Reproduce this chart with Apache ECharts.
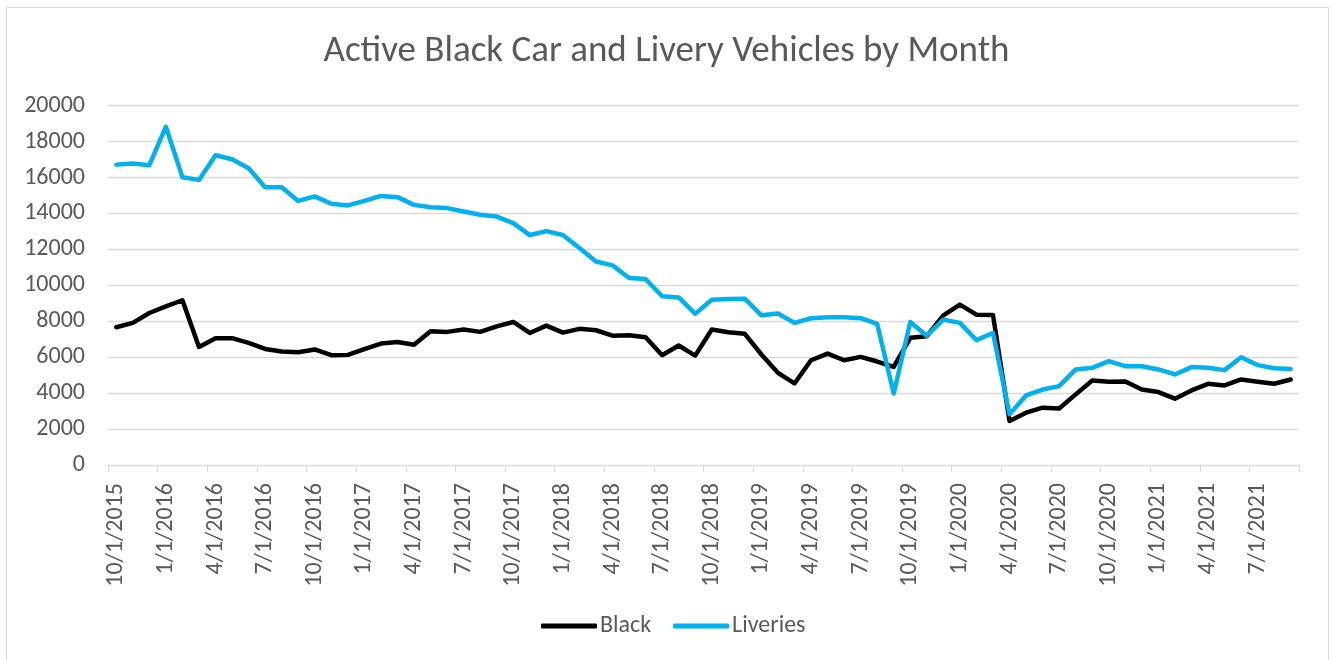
<!DOCTYPE html>
<html>
<head>
<meta charset="utf-8">
<script src="https://cdn.jsdelivr.net/npm/echarts@6/dist/echarts.min.js"></script>
<style>
html,body{margin:0;padding:0;background:#fff;}
#chart{width:1333px;height:660px;}
</style>
</head>
<body>
<div id="chart"></div>
<script>
var months = [
  "10/1/2015","11/1/2015","12/1/2015",
  "1/1/2016","2/1/2016","3/1/2016","4/1/2016","5/1/2016","6/1/2016","7/1/2016","8/1/2016","9/1/2016","10/1/2016","11/1/2016","12/1/2016",
  "1/1/2017","2/1/2017","3/1/2017","4/1/2017","5/1/2017","6/1/2017","7/1/2017","8/1/2017","9/1/2017","10/1/2017","11/1/2017","12/1/2017",
  "1/1/2018","2/1/2018","3/1/2018","4/1/2018","5/1/2018","6/1/2018","7/1/2018","8/1/2018","9/1/2018","10/1/2018","11/1/2018","12/1/2018",
  "1/1/2019","2/1/2019","3/1/2019","4/1/2019","5/1/2019","6/1/2019","7/1/2019","8/1/2019","9/1/2019","10/1/2019","11/1/2019","12/1/2019",
  "1/1/2020","2/1/2020","3/1/2020","4/1/2020","5/1/2020","6/1/2020","7/1/2020","8/1/2020","9/1/2020","10/1/2020","11/1/2020","12/1/2020",
  "1/1/2021","2/1/2021","3/1/2021","4/1/2021","5/1/2021","6/1/2021","7/1/2021","8/1/2021","9/1/2021"
];

var black = [
  7670, 7910, 8460, 8830, 9170, 6570, 7060, 7060, 6800, 6460, 6320, 6280,
  6430, 6110, 6130, 6450, 6760, 6850, 6690, 7450, 7410, 7540, 7410, 7720,
  7960, 7350, 7760, 7370, 7580, 7500, 7200, 7220, 7110, 6110, 6650, 6090,
  7540, 7390, 7300, 6150, 5130, 4540, 5830, 6200, 5830, 6020, 5760, 5460,
  7080, 7170, 8330, 8930, 8370, 8350, 2450, 2910, 3190, 3150, 3930, 4700,
  4630, 4650, 4200, 4060, 3690, 4150, 4520, 4430, 4760, 4630, 4520, 4760
];

var liveries = [
  16720, 16780, 16690, 18830, 16020, 15870, 17240, 17020, 16520, 15460, 15460, 14700,
  14950, 14540, 14450, 14700, 14980, 14910, 14480, 14350, 14300, 14110, 13930, 13830,
  13460, 12800, 13020, 12800, 12080, 11330, 11110, 10410, 10350, 9390, 9330, 8410,
  9200, 9240, 9260, 8330, 8430, 7910, 8170, 8220, 8220, 8170, 7850, 3980,
  7960, 7200, 8090, 7910, 6950, 7350, 2820, 3870, 4200, 4390, 5320, 5410,
  5780, 5500, 5500, 5320, 5040, 5450, 5410, 5280, 6000, 5560, 5390, 5350
];

var seriesNames = ["Black", "Liveries"];
var titleText = "Active Black Car and Livery Vehicles by Month";

var FONT = "Carlito, Calibri, Lato, sans-serif";
var TXT = "#595959";

var chart = echarts.init(document.getElementById('chart'), null, {renderer: 'canvas'});
chart.setOption({
  backgroundColor: '#ffffff',
  animation: false,
  graphic: [{
    type: 'rect',
    shape: {x: 6.5, y: 7.5, width: 1322, height: 670},
    style: {fill: 'none', stroke: '#d9d9d9', lineWidth: 1},
    silent: true,
    z: -1
  }],
  title: {
    text: titleText,
    left: 'center',
    top: 28,
    textStyle: {fontFamily: FONT, fontSize: 37, fontWeight: 'normal', color: TXT}
  },
  legend: {
    data: seriesNames,
    left: 536,
    top: 609,
    icon: 'roundRect',
    itemWidth: 56,
    itemHeight: 5,
    itemGap: 22,
    textStyle: {fontFamily: FONT, fontSize: 24, color: TXT, padding: [0, 0, 0, -2]}
  },
  grid: {
    left: 108,
    right: 34,
    top: 105.7,
    bottom: 195,
    containLabel: false,
    outerBoundsMode: 'none'
  },
  xAxis: {
    type: 'category',
    data: months,
    boundaryGap: true,
    axisLine: {show: true, lineStyle: {color: '#d9d9d9', width: 1}},
    axisTick: {show: true, interval: 2, length: 7, lineStyle: {color: '#d9d9d9'}},
    axisLabel: {interval: 2, rotate: 90, margin: 18, fontFamily: FONT, fontSize: 24, color: TXT},
    splitLine: {show: false}
  },
  yAxis: {
    type: 'value',
    min: 0,
    max: 20000,
    interval: 2000,
    axisLine: {show: false},
    axisTick: {show: false},
    axisLabel: {
      margin: 23, fontFamily: FONT, fontSize: 24, color: TXT,
      formatter: function (v) { return String(v); }
    },
    splitLine: {lineStyle: {color: '#d9d9d9', width: 1.3}}
  },
  series: [
    {
      name: seriesNames[0],
      type: 'line',
      data: black,
      symbol: 'none',
      smooth: false,
      color: '#000000',
      lineStyle: {color: '#000000', width: 4.5, cap: 'round', join: 'round'}
    },
    {
      name: seriesNames[1],
      type: 'line',
      data: liveries,
      symbol: 'none',
      smooth: false,
      color: '#00B0F0',
      lineStyle: {color: '#00B0F0', width: 4.5, cap: 'round', join: 'round'}
    }
  ]
});
</script>
</body>
</html>
